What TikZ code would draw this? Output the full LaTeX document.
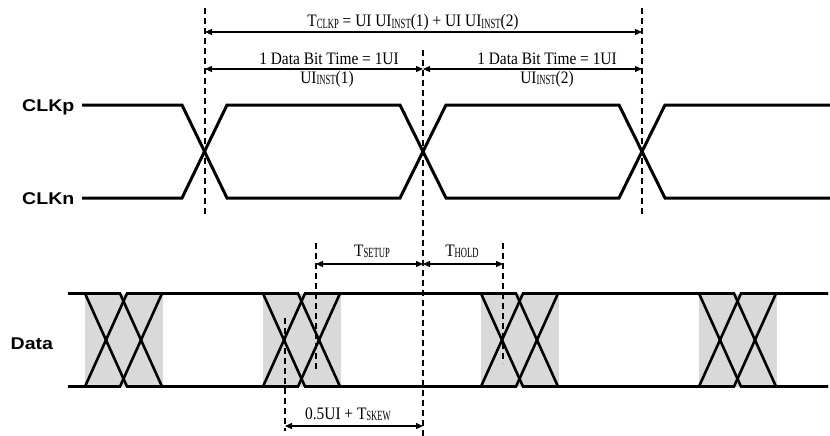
\documentclass[tikz,border=0pt]{standalone}
\usepackage{fontspec}
\usepackage{graphicx}
\setmainfont{Liberation Serif}
\newfontfamily\labfont{Liberation Sans}
\usetikzlibrary{arrows.meta}
\definecolor{eyegray}{RGB}{217,217,217}
\newcommand{\tx}[1]{\scalebox{0.88}[1]{\fontsize{17.5}{19}\selectfont #1}}
\newcommand{\sbs}[1]{\raisebox{-1.2pt}{\scalebox{0.7}[1]{\fontsize{14}{14}\selectfont #1}}}
\newcommand{\lb}[1]{\scalebox{1.15}[1]{\labfont\bfseries\fontsize{17}{17}\selectfont #1}}
\begin{document}
\begin{tikzpicture}[x=1pt,y=-1pt,
  wave/.style={line width=3pt},
  dwave/.style={line width=2.6pt},
  guide/.style={line width=1.3pt, dash pattern=on 6pt off 4pt},
  dim/.style={line width=1.2pt, {Triangle[length=7pt,width=6pt]}-{Triangle[length=7pt,width=6pt]}},
  lbl/.style={inner sep=0pt, anchor=base},
  sig/.style={inner sep=0pt, anchor=base west},
  eye/.style={fill=eyegray, draw=none}]
\useasboundingbox (0,0) rectangle (830,436);

% eye shading
\fill[eye] (85,293.5) rectangle (163,386.5);
\fill[eye] (263,293.5) rectangle (341,386.5);
\fill[eye] (481,293.5) rectangle (559,386.5);
\fill[eye] (699,293.5) rectangle (777,386.5);

% guide coordinates
\coordinate (ga1) at (205,8);   \coordinate (ga2) at (205,215);
\coordinate (gb1) at (423,50);  \coordinate (gb2) at (423,436);
\coordinate (gc1) at (642,8);   \coordinate (gc2) at (642,215);
\coordinate (gs1) at (316,243); \coordinate (gs2) at (316,370);
\coordinate (gh1) at (503,243); \coordinate (gh2) at (503,363);
\coordinate (gk1) at (285,318); \coordinate (gk2) at (285,431);

\draw[guide] (ga1) -- (ga2);
\draw[guide] (gb1) -- (gb2);
\draw[guide] (gc1) -- (gc2);
\draw[guide] (gs1) -- (gs2);
\draw[guide] (gh1) -- (gh2);
\draw[guide] (gk1) -- (gk2);

% clock waveforms
\draw[wave] (82,105) -- (182,105) -- (227,198) -- (400,198) -- (446,105) -- (619,105) -- (665,198) -- (830,198);
\draw[wave] (82,198) -- (182,198) -- (227,105) -- (400,105) -- (446,198) -- (619,198) -- (665,105) -- (830,105);

% data eye
\draw[dwave] (68,293.5) -- (120,293.5) -- (162,386.5) -- (298,386.5) -- (340,293.5) -- (516,293.5) -- (558,386.5) -- (734,386.5) -- (776,293.5) -- (828,293.5);
\draw[dwave] (68,386.5) -- (120,386.5) -- (162,293.5) -- (298,293.5) -- (340,386.5) -- (516,386.5) -- (558,293.5) -- (734,293.5) -- (776,386.5) -- (828,386.5);
\draw[dwave] (68,293.5) -- (85,293.5) -- (127,386.5) -- (263,386.5) -- (305,293.5) -- (481,293.5) -- (523,386.5) -- (699,386.5) -- (741,293.5) -- (828,293.5);
\draw[dwave] (68,386.5) -- (85,386.5) -- (127,293.5) -- (263,293.5) -- (305,386.5) -- (481,386.5) -- (523,293.5) -- (699,293.5) -- (741,386.5) -- (828,386.5);

% dimension arrows
\coordinate (clkL) at (205,32); \coordinate (clkR) at (642,32);
\coordinate (uiL) at (205,69);  \coordinate (uiM) at (423,69); \coordinate (uiR) at (642,69);
\coordinate (suL) at (316,264); \coordinate (suM) at (423,264); \coordinate (hoR) at (503,264);
\coordinate (skL) at (285,426); \coordinate (skR) at (423,426);

\draw[dim] (clkL) -- (clkR);
\draw[dim] (uiL) -- (uiM);
\draw[dim] (uiM) -- (uiR);
\draw[dim] (suL) -- (suM);
\draw[dim] (suM) -- (hoR);
\draw[dim] (skL) -- (skR);

% texts
\node[lbl] (tclk) at (413,27) {\tx{T\sbs{CLKP} = UI UI\sbs{INST}(1) + UI UI\sbs{INST}(2)}};
\node[lbl] (bit1) at (329,65) {\tx{1 Data Bit Time = 1UI}};
\node[lbl] (bit2) at (547,65) {\tx{1 Data Bit Time = 1UI}};
\node[lbl] (ui1) at (327,83) {\tx{UI\sbs{INST}(1)}};
\node[lbl] (ui2) at (547,83) {\tx{UI\sbs{INST}(2)}};
\node[lbl] (tsu) at (372,256) {\tx{T\sbs{SETUP}}};
\node[lbl] (tho) at (462,256) {\tx{T\sbs{HOLD}}};
\node[lbl] (tsk) at (348,419) {\tx{0.5UI + T\sbs{SKEW}}};

\node[sig] (clkp) at (22,111) {\lb{CLKp}};
\node[sig] (clkn) at (22,204) {\lb{CLKn}};
\node[sig] (data) at (10.5,349) {\lb{Data}};
\end{tikzpicture}
\end{document}
